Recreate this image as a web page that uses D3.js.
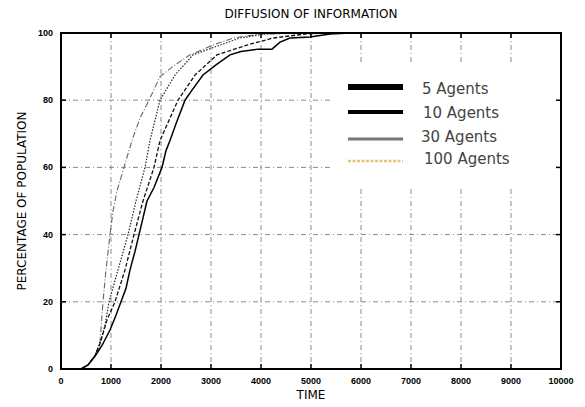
<!DOCTYPE html>
<html><head><meta charset="utf-8">
<script src="https://cdn.jsdelivr.net/npm/d3@7"></script>
<style>body{margin:0;background:#fff}svg{display:block}</style>
</head><body>
<script>
const titleText = "DIFFUSION OF INFORMATION";
const xLabel = "TIME";
const yLabel = "PERCENTAGE OF POPULATION";
const xTicks = [0,1000,2000,3000,4000,5000,6000,7000,8000,9000,10000];
const yTicks = [0,20,40,60,80,100];
const legendLabels = ["5 Agents","10 Agents","30 Agents","100 Agents"];

// [time, percentage]
const agents100 = [[400,0],[540,1.2],[680,4],[780,8],[840,20],[900,29.5],[980,40],[1040,47],[1120,53],[1260,60],[1420,68],[1580,74.7],[1760,80],[1980,87],[2280,90.5],[2580,93.5],[3040,96.4],[3440,98.5],[3980,99.7],[4780,100],[5600,100]];
const agents30 = [[400,0],[540,1.2],[680,4],[780,7.8],[880,13],[960,20],[1140,29.5],[1340,40],[1500,50],[1680,60],[1780,68],[1980,80],[2280,87.5],[2640,93.5],[3180,96.4],[3580,98.5],[4080,99.7],[4780,100],[5600,100]];
const agents10 = [[400,0],[540,1.2],[680,4],[780,7.5],[920,14.6],[1080,20],[1280,29.5],[1460,40],[1640,50],[1860,60],[1980,68],[2340,80],[2680,87.5],[3120,93.5],[3720,96.4],[4240,98.5],[4880,99.7],[5380,100],[5800,100]];
const agents5 = [[400,0],[540,1.2],[680,3.8],[820,7],[980,11.6],[1100,16],[1200,20],[1300,24],[1380,29.5],[1480,35],[1560,40],[1640,45],[1720,50],[1860,54],[2020,60],[2100,65],[2180,68],[2300,73],[2480,80],[2620,83],[2840,87.5],[3100,90.5],[3380,93.5],[3600,94.5],[3940,95.2],[4220,95.2],[4380,97.3],[4580,98.5],[4980,98.8],[5380,99.7],[5780,100],[6000,100]];

const W=585,H=407;
const svg=d3.select("body").append("svg").attr("width",W).attr("height",H);
const x=d3.scaleLinear().domain([0,10000]).range([61,561]);
const y=d3.scaleLinear().domain([0,100]).range([369,33]);

// gridlines
const grid=svg.append("g").attr("stroke","#8a8a8a").attr("stroke-width",1).attr("stroke-dasharray","5,3,1,3");
grid.selectAll("line.v").data(xTicks.slice(1,-1)).join("line")
  .attr("x1",d=>x(d)).attr("x2",d=>x(d)).attr("y1",y(100)).attr("y2",y(0));
grid.selectAll("line.h").data(yTicks.slice(1,-1)).join("line")
  .attr("x1",x(0)).attr("x2",x(10000)).attr("y1",d=>y(d)).attr("y2",d=>y(d));

// legend box (white) covering grid
svg.append("rect").attr("x",330).attr("y",63).attr("width",229).attr("height",124).attr("fill","#fff");

// ticks
const tk=svg.append("g").attr("stroke","#000").attr("stroke-width",1.5);
xTicks.slice(1,-1).forEach(d=>{
  tk.append("line").attr("x1",x(d)).attr("x2",x(d)).attr("y1",y(0)).attr("y2",y(0)-5);
  tk.append("line").attr("x1",x(d)).attr("x2",x(d)).attr("y1",y(100)).attr("y2",y(100)+5);
});
yTicks.slice(1,-1).forEach(d=>{
  tk.append("line").attr("x1",x(0)).attr("x2",x(0)+5).attr("y1",y(d)).attr("y2",y(d));
  tk.append("line").attr("x1",x(10000)).attr("x2",x(10000)-5).attr("y1",y(d)).attr("y2",y(d));
});

// curves
const line=d3.line().x(d=>x(d[0])).y(d=>y(d[1]));
const curves=[
  {data:agents100,stroke:"#666",w:1.1,dash:"6,2,1,2"},
  {data:agents30,stroke:"#222",w:1.2,dash:"1.5,1.5"},
  {data:agents10,stroke:"#111",w:1.3,dash:"4,2"},
  {data:agents5,stroke:"#000",w:1.5,dash:null}
];
curves.forEach(c=>{
  svg.append("path").attr("d",line(c.data)).attr("fill","none")
    .attr("stroke",c.stroke).attr("stroke-width",c.w).attr("stroke-dasharray",c.dash);
});

// frame
svg.append("rect").attr("x",x(0)).attr("y",y(100)).attr("width",x(10000)-x(0)).attr("height",y(0)-y(100))
  .attr("fill","none").attr("stroke","#000").attr("stroke-width",2);

// tick labels
svg.append("g").selectAll("text").data(xTicks).join("text")
  .attr("x",d=>x(d)).attr("y",384).attr("text-anchor","middle")
  .attr("font-family","Liberation Sans, Arial, sans-serif").attr("font-weight","bold").attr("font-size",9)
  .text(d=>d);
svg.append("g").selectAll("text").data(yTicks).join("text")
  .attr("x",53).attr("y",d=>y(d)+3).attr("text-anchor","end")
  .attr("font-family","Liberation Sans, Arial, sans-serif").attr("font-weight","bold").attr("font-size",9)
  .text(d=>d);

// titles
svg.append("text").attr("x",311).attr("y",18).attr("text-anchor","middle")
  .attr("font-family","DejaVu Sans, sans-serif").attr("font-size",12).text(titleText);
svg.append("text").attr("x",311).attr("y",399).attr("text-anchor","middle")
  .attr("font-family","DejaVu Sans, sans-serif").attr("font-size",12).text(xLabel);
svg.append("text").attr("transform","translate(26,201) rotate(-90)").attr("text-anchor","middle")
  .attr("font-family","DejaVu Sans, sans-serif").attr("font-size",12).text(yLabel);

// legend
const legStyles=[
  {y:87,w:6,stroke:"#000",dash:null,tx:422,ty:94},
  {y:112,w:4,stroke:"#000",dash:null,tx:423,ty:118},
  {y:139,w:3,stroke:"#777",dash:null,tx:421,ty:142},
  {y:161,w:2.5,stroke:"#e8c27a",dash:"3,1.5",tx:424,ty:164}
];
legendLabels.forEach((lab,i)=>{
  const s=legStyles[i];
  svg.append("line").attr("x1",348).attr("x2",403).attr("y1",s.y).attr("y2",s.y)
    .attr("stroke",s.stroke).attr("stroke-width",s.w).attr("stroke-dasharray",s.dash);
  svg.append("text").attr("x",s.tx).attr("y",s.ty).attr("font-family","DejaVu Sans, sans-serif")
    .attr("font-size",15).attr("fill","#444").text(lab);
});
</script>
</body></html>
